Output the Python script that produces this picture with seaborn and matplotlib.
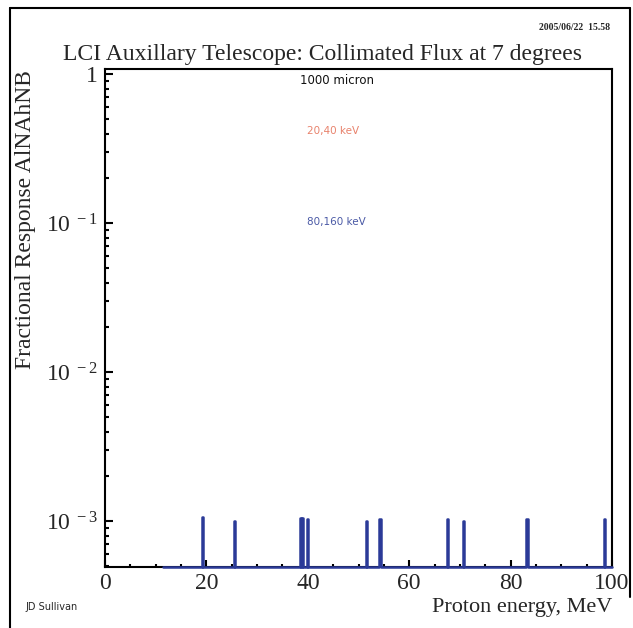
import numpy as np
import pandas as pd
import seaborn as sns
import matplotlib
matplotlib.use("Agg")
import matplotlib.pyplot as plt
from matplotlib.ticker import FixedLocator, LogLocator, NullFormatter

# response spikes (energy in MeV, fractional response)
peak_energy = [19.2, 25.4, 38.5, 39.0, 40.0, 51.6, 54.2, 67.4, 70.7, 83.2, 98.4]
peak_value = [1.06e-3, 1.00e-3, 1.05e-3, 1.05e-3, 1.03e-3, 1.01e-3, 1.04e-3,
              1.03e-3, 1.01e-3, 1.04e-3, 1.04e-3]
hist_start, hist_stop, bin_width = 11.5, 100.0, 0.25
y_floor, y_top = 4.93e-4, 1.086
ytick_vals = [1e-3, 1e-2, 1e-1, 1]
ytick_labels = [r"$10^{\ -3}$", r"$10^{\ -2}$", r"$10^{\ -1}$", "1"]
xtick_vals = [0, 20, 40, 60, 80, 100]
notes = ["1000 micron", "20,40 keV", "80,160 keV"]
note_colors = ["#111111", "#e8826c", "#4b5aa6"]

# step histogram: empty bins sit on the axis floor
edges = np.arange(hist_start, hist_stop + bin_width, bin_width)
vals = np.full(len(edges), y_floor)
for e, v in zip(peak_energy, peak_value):
    i = int(round((e - hist_start) / bin_width))
    vals[i] = v
df = pd.DataFrame({"energy": edges, "response": vals})

sns.set_style("white")
plt.rcParams["font.family"] = ["Liberation Serif", "DejaVu Serif"]
plt.rcParams["mathtext.fontset"] = "custom"
plt.rcParams["mathtext.rm"] = "Liberation Serif"
plt.rcParams["mathtext.it"] = "Liberation Serif"

fig = plt.figure(figsize=(6.33, 6.28), dpi=100)
ax = fig.add_axes([0.1659, 0.0971, 0.801, 0.793])

sns.lineplot(data=df, x="energy", y="response", ax=ax, color="#2b3a98",
             linewidth=1.8, drawstyle="steps-mid", estimator=None)
ax.lines[0].set_clip_on(False)
ax.lines[0].set_zorder(3)
ax.set_yscale("log")
ax.set_xlim(0, 100)
ax.set_ylim(y_floor, y_top)

for s in ax.spines.values():
    s.set_linewidth(1.5)
    s.set_color("black")

ax.yaxis.set_major_locator(FixedLocator(ytick_vals))
ax.set_yticklabels(ytick_labels)
ax.yaxis.set_minor_locator(LogLocator(base=10, subs=np.arange(2, 10)))
ax.yaxis.set_minor_formatter(NullFormatter())
ax.xaxis.set_major_locator(FixedLocator(xtick_vals))
ax.xaxis.set_minor_locator(FixedLocator(np.arange(5, 100, 5)))
ax.tick_params(axis="both", which="both", direction="in", top=False, right=False,
               left=True, bottom=True, width=1.5, color="black")
ax.tick_params(axis="y", which="major", length=6, labelsize=17, pad=5)
ax.tick_params(axis="y", which="minor", length=3)
ax.tick_params(axis="x", which="major", length=5, labelsize=17, pad=4)
ax.tick_params(axis="x", which="minor", length=2.5)
ax.set_ylabel("")
ax.set_xlabel("Proton energy, MeV", fontsize=16, loc="right", labelpad=3)

ax.text(38.5, 0.916, notes[0], color=note_colors[0], fontsize=8.5,
        family="DejaVu Sans", va="center")
ax.text(39.8, 0.417, notes[1], color=note_colors[1], fontsize=7.5,
        family="DejaVu Sans", va="center")
ax.text(39.8, 0.102, notes[2], color=note_colors[2], fontsize=7.5,
        family="DejaVu Sans", va="center")

fig.text(0.51, 0.905, "LCI Auxillary Telescope: Collimated Flux at 7 degrees",
         fontsize=17, ha="center", va="baseline")
fig.text(0.964, 0.952, "2005/06/22  15.58", fontsize=7, ha="right",
         va="baseline", fontweight="bold")
fig.text(0.04, 0.889, "Fractional Response AlNAhNB", fontsize=17,
         rotation=90, ha="center", va="top")
fig.text(0.04, 0.028, "JD Sullivan", fontsize=7, family="DejaVu Sans",
         ha="left", va="baseline")

# outer frame of the printed page
fig.add_artist(plt.Line2D([0.016, 0.016], [0.0, 0.987], color="black", lw=1.5))
fig.add_artist(plt.Line2D([0.016, 0.995], [0.987, 0.987], color="black", lw=1.5))
fig.add_artist(plt.Line2D([0.995, 0.995], [0.05, 0.987], color="black", lw=1.5))

fig.savefig("out.png", dpi=100)
